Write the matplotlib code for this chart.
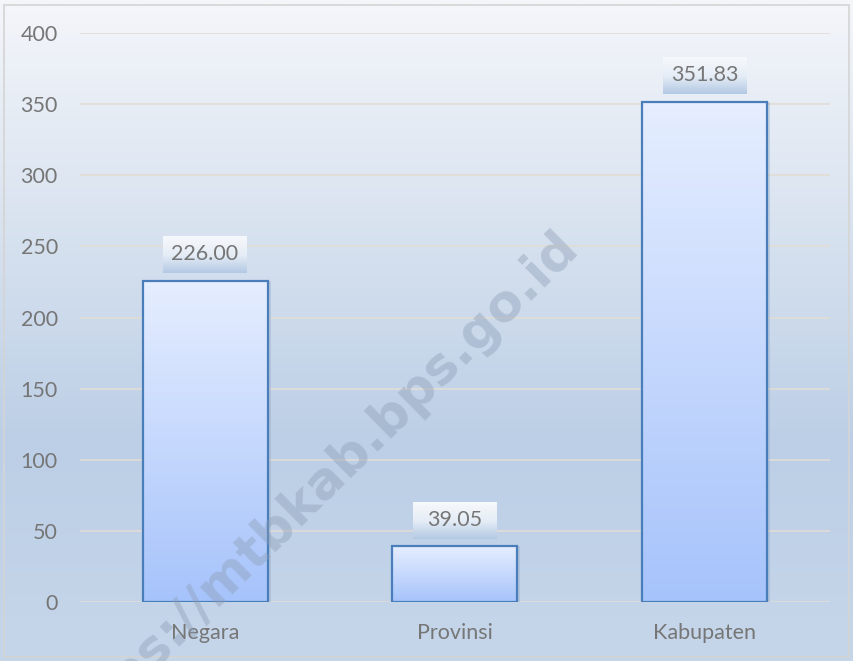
import matplotlib.pyplot as plt
import numpy as np
from matplotlib.colors import LinearSegmentedColormap
from matplotlib.patches import Rectangle

categories = ['Negara', 'Provinsi', 'Kabupaten']
values = [226.00, 39.05, 351.83]
value_labels = ['226.00', '39.05', '351.83']
y_ticks = [0, 50, 100, 150, 200, 250, 300, 350, 400]

plt.rcParams['font.family'] = ['Lato', 'DejaVu Sans']
text_color = '#767676'

fig = plt.figure(figsize=(8.54, 6.61), dpi=100)

# background gradient over the whole figure
bg = fig.add_axes([0, 0, 1, 1], zorder=0)
bg_cmap = LinearSegmentedColormap.from_list('bg', ['#f4f6fa', '#d9e3f0', '#bccfe6', '#c6d6ea'])
bg.imshow(np.linspace(0, 1, 256).reshape(-1, 1), aspect='auto', cmap=bg_cmap,
          extent=(0, 1, 0, 1), origin='upper')
bg.add_patch(Rectangle((4 / 854, 4 / 661), 1 - 9 / 854, 1 - 9 / 661, fill=False,
                       edgecolor='#d4d4d4', linewidth=1.2))
bg.set_xlim(0, 1)
bg.set_ylim(0, 1)
bg.axis('off')

ax = fig.add_axes([80 / 854, 59 / 661, 750 / 854, 569 / 661], zorder=1)
ax.patch.set_alpha(0)
ax.set_xlim(-0.5, 2.5)
ax.set_ylim(0, 400)

for t in y_ticks:
    ax.axhline(t, color='#e2ddd6', linewidth=1.2, zorder=1)

bar_cmap = LinearSegmentedColormap.from_list('bar', ['#e6eeff', '#a6c3fb'])
x = np.arange(len(categories))
bars = ax.bar(x, values, width=0.5, facecolor='none', edgecolor='#4a7ebb',
              linewidth=1.6, zorder=4)
for b in bars:
    x0, y0 = b.get_x(), b.get_y()
    w, h = b.get_width(), b.get_height()
    # soft shadow on the right
    ax.add_patch(Rectangle((x0 + 0.012, y0), w, h, facecolor='#8fa5c4', alpha=0.35,
                           edgecolor='none', zorder=2))
    ax.imshow(np.linspace(0, 1, 256).reshape(-1, 1), aspect='auto', cmap=bar_cmap,
              extent=(x0, x0 + w, y0, y0 + h), origin='upper', zorder=3)

ax.set_xlim(-0.5, 2.5)
ax.set_ylim(0, 400)

ax.set_yticks(y_ticks)
ax.set_xticks(x)
ax.set_xticklabels(categories)
ax.tick_params(axis='both', length=0, labelsize=15.5, labelcolor=text_color)
ax.tick_params(axis='y', pad=16)
ax.tick_params(axis='x', pad=15)
for s in ax.spines.values():
    s.set_visible(False)

# value labels with gradient boxes
box_cmap = LinearSegmentedColormap.from_list('box', ['#f7f9fc', '#e6edf6', '#b3c9e4'])
texts = []
for xi, v, lab in zip(x, values, value_labels):
    t = ax.text(xi, v + 18.5, lab, ha='center', va='center', fontsize=15.5,
                color=text_color, zorder=6)
    texts.append(t)

fig.canvas.draw()
inv = ax.transData.inverted()
for t in texts:
    bb = t.get_window_extent()
    cx = (bb.x0 + bb.x1) / 2
    cy = (bb.y0 + bb.y1) / 2
    (bx0, by0) = inv.transform((cx - 42, cy - 18.5))
    (bx1, by1) = inv.transform((cx + 42, cy + 18.5))
    ax.imshow(np.linspace(0, 1, 256).reshape(-1, 1), aspect='auto', cmap=box_cmap,
              extent=(bx0, bx1, by0, by1), origin='upper', zorder=5)

ax.set_xlim(-0.5, 2.5)
ax.set_ylim(0, 400)

# watermark
fig.text(0.367, 0.256, 'https://mtbkab.bps.go.id', fontsize=37, fontweight='bold',
         family='DejaVu Sans', color='#8c9db5', alpha=0.42, rotation=44.5,
         ha='center', va='center', zorder=10)

fig.savefig('out.png', dpi=100)
